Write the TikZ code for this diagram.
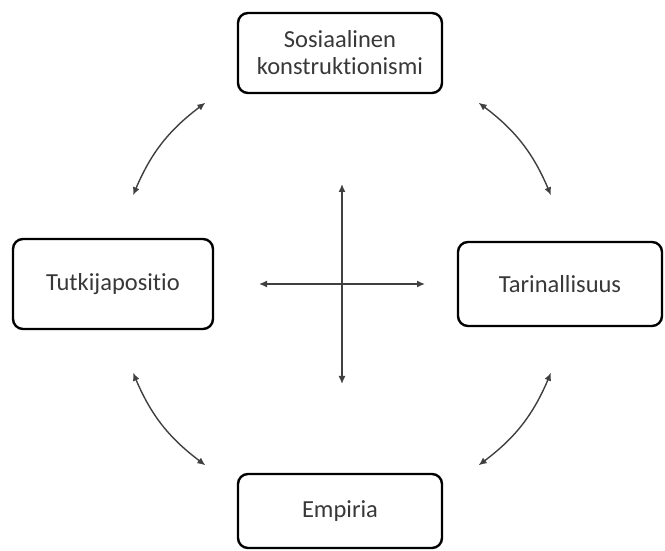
\documentclass[tikz,border=0pt]{standalone}
\usepackage{fontspec}
\setmainfont{Carlito}[Ligatures=NoCommon]
\usetikzlibrary{arrows.meta,positioning}

\begin{document}
\begin{tikzpicture}[
  x=1pt, y=1pt,
  font=\fontsize{24.5}{27}\selectfont,
  theme/.style={draw, rectangle, rounded corners=10pt, line width=2.4pt, align=center, text=black!78, minimum width=204pt},
  arr/.style={{Latex[length=8pt,width=7pt]}-{Latex[length=8pt,width=7pt]}, line width=1.4pt, draw=black!75}
]
  \useasboundingbox (0,0) rectangle (665,551);

  \node[theme, minimum height=80pt] (sos) at (340,498) {Sosiaalinen\\konstruktionismi};
  \node[theme, minimum width=200pt, minimum height=90pt] (tut) at (113,267) {Tutkijapositio};
  \node[theme, minimum height=84pt] (tar) at (560,267) {Tarinallisuus};
  \node[theme, minimum height=74pt] (emp) at (340,40) {Empiria};

  % ends of the cross and of the arcs
  \begin{scope}[shift={(342,267)}]
    \coordinate (n) at (0,100);
    \coordinate (s) at (0,-100);
    \coordinate (w) at (-83,0);
    \coordinate (e) at (83,0);
    \coordinate (tl1) at (157:227);
    \coordinate (tl2) at (127:227);
    \coordinate (tr1) at (53:227);
    \coordinate (tr2) at (23:227);
    \coordinate (br1) at (337:227);
    \coordinate (br2) at (307:227);
    \coordinate (bl1) at (233:227);
    \coordinate (bl2) at (203:227);
  \end{scope}

  \draw[arr] (w) -- (e);
  \draw[arr] (s) -- (n);

  \draw[arr] (tl1) to[bend left=15] (tl2);
  \draw[arr] (tr1) to[bend left=15] (tr2);
  \draw[arr] (br1) to[bend left=15] (br2);
  \draw[arr] (bl1) to[bend left=15] (bl2);
\end{tikzpicture}
\end{document}
